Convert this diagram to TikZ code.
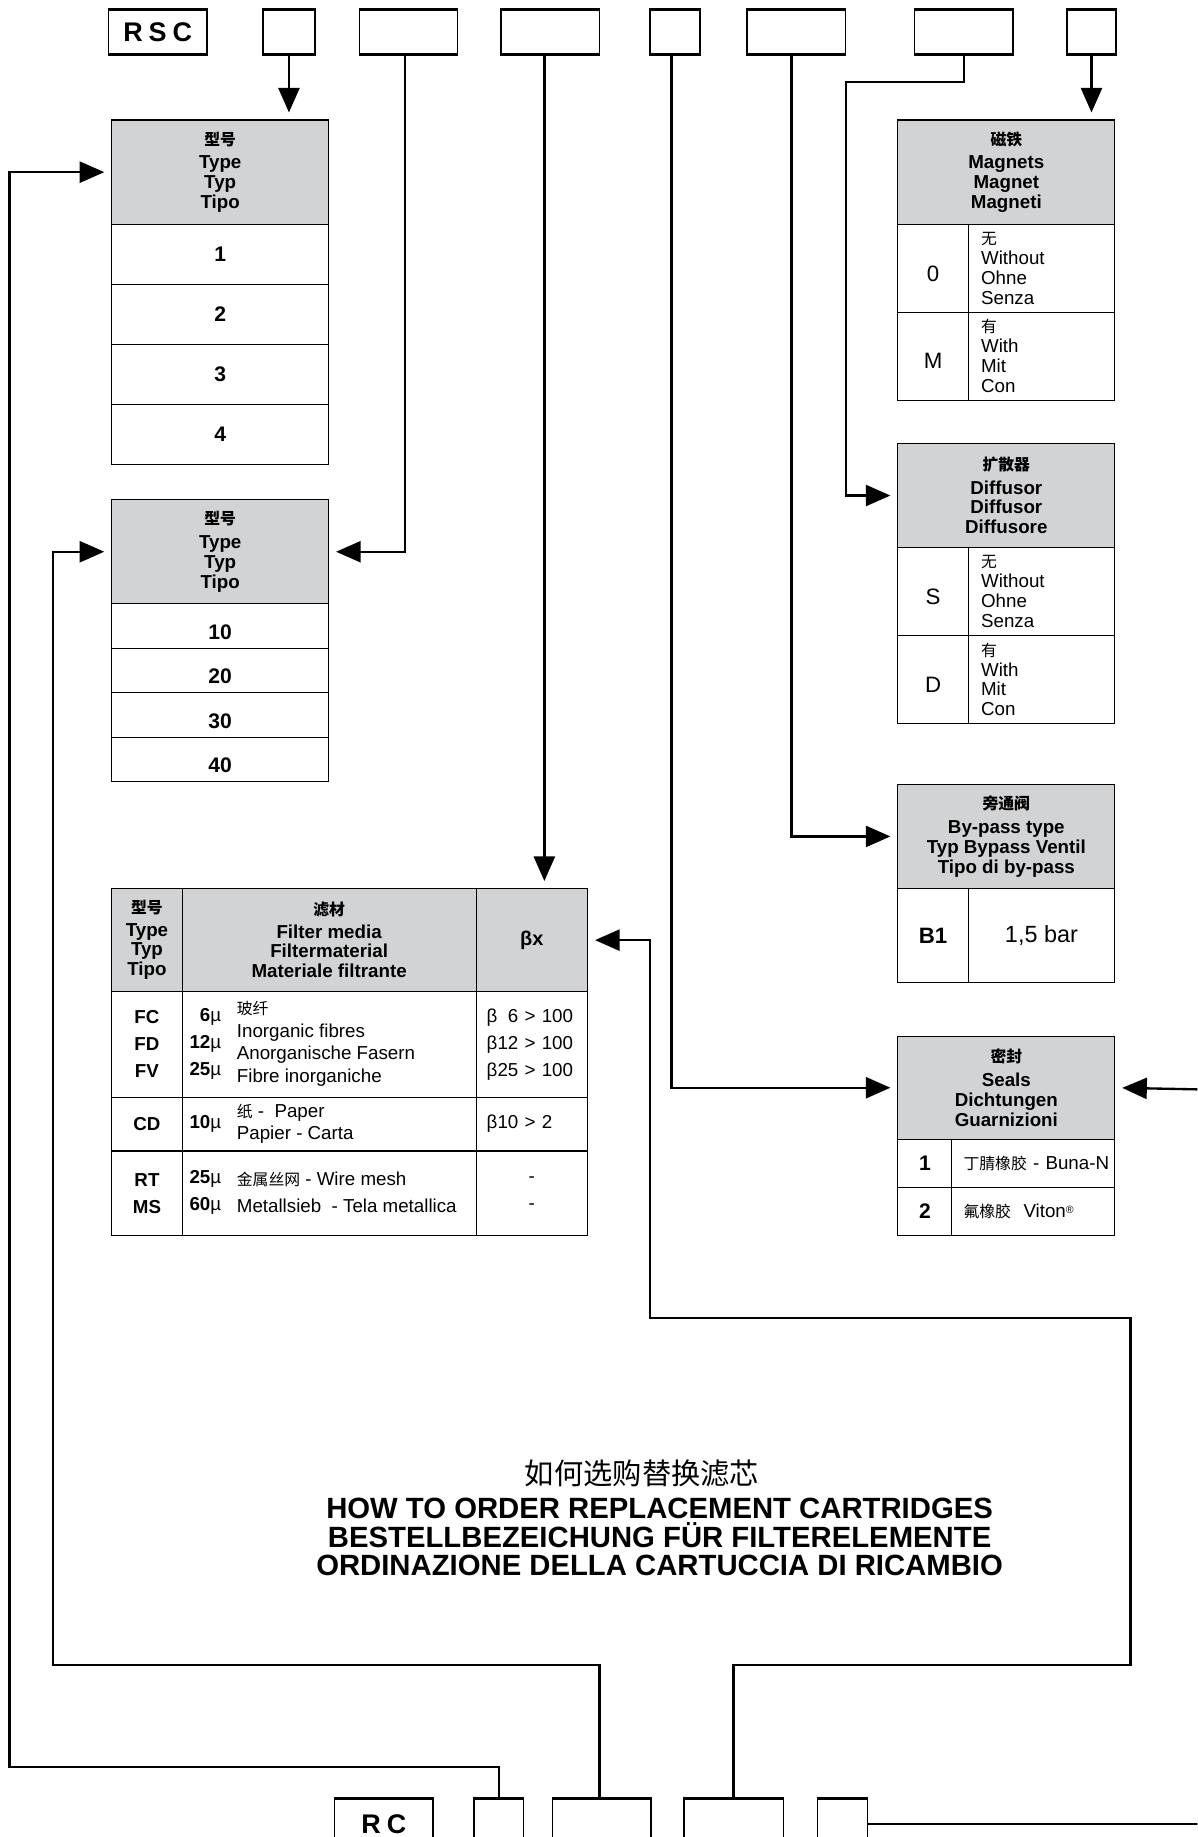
\documentclass[tikz,border=0pt]{standalone}
\usepackage{fontspec}
\setmainfont{Liberation Sans}
\newfontfamily\cjk{Noto Sans CJK SC}
\usepackage{tikz}
\usetikzlibrary{arrows.meta,positioning}
\definecolor{hdrgray}{RGB}{210,211,213}
\newcommand{\zh}[1]{{\cjk\fontsize{13.5}{13.5}\selectfont #1}}

\begin{document}
\begin{tikzpicture} [
      x = 1pt, y = -1pt,
      every node/.style = {inner sep = 0, font = \fontsize{16}{17}\selectfont},
      code/.style = {draw, line width = 1.3pt, minimum height = 37pt, anchor = north west, font = \bfseries\fontsize{23}{23}\selectfont},
      cell/.style = {draw, line width = 0.9pt, anchor = north west, align = center},
      head/.style = {cell, fill = hdrgray, font = \bfseries\fontsize{16}{17}\selectfont},
      txt/.style = {cell, align = left, text width = 103pt, inner xsep = 11pt},
      big/.style = {font = \fontsize{19}{19}\selectfont},
      num/.style = {font = \bfseries\fontsize{18}{18}\selectfont},
      low/.style = {text height = 22pt, text depth = 0pt},
      wire/.style = {line width = 2pt},
      arr/.style = {wire, -{Triangle[length = 21pt, width = 18pt]}, shorten > = 6pt}
      ]
    \useasboundingbox (0,0) rectangle (1022,1568);
    \clip (0,0) rectangle (1022,1568);

    \node [code, minimum width = 84pt] (rsc) at (92,8) {R\kern5pt S\kern5pt C};
    \node [code, minimum width = 44pt] (b1) at (224,8) {};
    \node [code, minimum width = 84pt] (b2) at (306,8) {};
    \node [code, minimum width = 84pt] (b3) at (427,8) {};
    \node [code, minimum width = 43pt] (b4) at (554,8) {};
    \node [code, minimum width = 84pt] (b5) at (637,8) {};
    \node [code, minimum width = 84pt] (b6) at (780,8) {};
    \node [code, minimum width = 42pt] (b7) at (910,8) {};

    \node [code, minimum width = 84pt, minimum height = 42pt] (rc) at (285,1535) {R\kern5pt C};
    \node [code, minimum width = 42pt, minimum height = 42pt] (r1) at (404,1535) {};
    \node [code, minimum width = 84pt, minimum height = 42pt] (r2) at (471,1535) {};
    \node [code, minimum width = 85pt, minimum height = 42pt] (r3) at (583,1535) {};
    \node [code, minimum width = 43pt, minimum height = 42pt] (r4) at (697,1535) {};

    \foreach \n in {rsc,b1,b2,b3,b4,b5,b6,b7,rc,r1,r2,r3,r4}
      \draw [line width = 2.6pt] (\n.north west) -- (\n.north east) (\n.south west) -- (\n.south east);

    \node [head, minimum width = 185pt, minimum height = 89pt] (t1h) at (95,102) {\zh{型号}\\[3pt] Type\\ Typ\\ Tipo};
    \foreach \v [count = \i from 0] in {1,2,3,4}
      \node [cell, num, minimum width = 185pt, minimum height = 51.25pt] (t1r\v) at (95,{191+51.25*\i}) {\v};

    \node [head, minimum width = 185pt, minimum height = 89pt] (t2h) at (95,426) {\zh{型号}\\[3pt] Type\\ Typ\\ Tipo};
    \foreach \v [count = \i from 0] in {10,20,30,40}
      \node [cell, num, low, minimum width = 185pt, minimum height = 38pt] (t2r\v) at (95,{515+38*\i}) {\v};

    \node [head, minimum width = 185pt, minimum height = 89pt] (mh) at (766,102) {\zh{磁铁}\\[3pt] Magnets\\ Magnet\\ Magneti};
    \node [cell, big, low, minimum width = 60pt, minimum height = 75pt] (m0) at (766,191) {0};
    \node [txt, minimum height = 75pt] (m0t) at (826,191) {\zh{无}\\ Without\\ Ohne\\ Senza};
    \node [cell, big, low, minimum width = 60pt, minimum height = 75pt] (mm) at (766,266) {M};
    \node [txt, minimum height = 75pt] (mmt) at (826,266) {\zh{有}\\ With\\ Mit\\ Con};

    \node [head, minimum width = 185pt, minimum height = 89pt] (dh) at (766,378) {\zh{扩散器}\\[3pt] Diffusor\\ Diffusor\\ Diffusore};
    \node [cell, big, low, minimum width = 60pt, minimum height = 75pt] (ds) at (766,467) {S};
    \node [txt, minimum height = 75pt] (dst) at (826,467) {\zh{无}\\ Without\\ Ohne\\ Senza};
    \node [cell, big, low, minimum width = 60pt, minimum height = 75pt] (dd) at (766,542) {D};
    \node [txt, minimum height = 75pt] (ddt) at (826,542) {\zh{有}\\ With\\ Mit\\ Con};

    \node [head, minimum width = 185pt, minimum height = 89pt] (bh) at (766,669) {\zh{旁通阀}\\[3pt] By-pass type\\ Typ Bypass Ventil\\ Tipo di by-pass};
    \node [cell, minimum width = 60pt, minimum height = 80pt, font = \bfseries\fontsize{19}{19}\selectfont] (bpk) at (766,758) {B1};
    \node [cell, minimum width = 125pt, minimum height = 80pt, font = \fontsize{20}{20}\selectfont] (bpv) at (826,758) {1,5 bar};

    \node [head, minimum width = 185pt, minimum height = 88pt] (sh) at (766,884) {\zh{密封}\\[3pt] Seals\\ Dichtungen\\ Guarnizioni};
    \node [cell, num, minimum width = 46pt, minimum height = 41pt] (s1) at (766,972) {1};
    \node [txt, text width = 119pt, inner xsep = 10pt, minimum height = 41pt] (s1t) at (812,972) {\mbox{\zh{丁腈橡胶} - Buna-N}};
    \node [cell, num, minimum width = 46pt, minimum height = 41pt] (s2) at (766,1013) {2};
    \node [txt, text width = 119pt, inner xsep = 10pt, minimum height = 41pt] (s2t) at (812,1013) {\zh{氟橡胶}\ \ Viton\raisebox{3pt}{\fontsize{9}{9}\selectfont ®}};

    \node [head, minimum width = 60pt, minimum height = 88pt] (fa) at (95,758) {\zh{型号}\\[2pt] Type\\ Typ\\ Tipo};
    \node [head, minimum width = 251pt, minimum height = 88pt] (fm) at (155,758) {\zh{滤材}\\[2pt] Filter media\\ Filtermaterial\\ Materiale filtrante};
    \node [head, minimum width = 95pt, minimum height = 88pt, font = \bfseries\fontsize{17}{17}\selectfont] (fb) at (406,758) {βx};

    \node [cell, minimum width = 60pt, minimum height = 90pt, font = \bfseries\fontsize{16}{23}\selectfont] (fc1) at (95,846) {FC\\ FD\\ FV};
    \node [cell, minimum width = 251pt, minimum height = 90pt] (fc2) at (155,846) {};
    \node [anchor = east, align = right, font = \fontsize{16}{23}\selectfont] (fc2s) at (189,891) {\textbf{6}µ\\ \textbf{12}µ\\ \textbf{25}µ};
    \node [anchor = west, align = left, font = \fontsize{16}{19.5}\selectfont] (fc2t) at (202,891) {\zh{玻纤}\\ Inorganic fibres\\ Anorganische Fasern\\ Fibre inorganiche};
    \node [txt, text width = 77pt, inner xsep = 9pt, minimum height = 90pt, font = \fontsize{16}{23}\selectfont] (fc3) at (406,846) {β\hphantom{1}6 > 100\\ β12 > 100\\ β25 > 100};

    \node [cell, minimum width = 60pt, minimum height = 46pt, font = \bfseries\fontsize{16}{17}\selectfont] (fd1) at (95,936) {CD};
    \node [cell, minimum width = 251pt, minimum height = 46pt] (fd2) at (155,936) {};
    \node [anchor = east] (fd2s) at (189,959) {\textbf{10}µ};
    \node [anchor = west, align = left, font = \fontsize{16}{19}\selectfont] (fd2t) at (202,959) {\zh{纸} -\ \ Paper\\ Papier - Carta};
    \node [txt, text width = 77pt, inner xsep = 9pt, minimum height = 46pt] (fd3) at (406,936) {β10 > 2};

    \node [cell, minimum width = 60pt, minimum height = 72pt, font = \bfseries\fontsize{16}{23}\selectfont] (fe1) at (95,982) {RT\\ MS};
    \node [cell, minimum width = 251pt, minimum height = 72pt] (fe2) at (155,982) {};
    \node [anchor = east, align = right, font = \fontsize{16}{23}\selectfont] (fe2s) at (189,1018) {\textbf{25}µ\\ \textbf{60}µ};
    \node [anchor = west, align = left, font = \fontsize{16}{23}\selectfont] (fe2t) at (202,1018) {\zh{金属丝网} - Wire mesh\\ Metallsieb\ \ - Tela metallica};
    \node [cell, minimum width = 95pt, minimum height = 72pt, font = \fontsize{16}{23}\selectfont] (fe3) at (406,982) {-\\ -};

    \node [font = \cjk\fontsize{25}{25}\selectfont] (ttlzh) at (548,1258) {如何选购替换滤芯};
    \node [align = center, font = \bfseries\fontsize{25}{24.5}\selectfont] (ttl) at (563,1312) {HOW TO ORDER REPLACEMENT CARTRIDGES\\ BESTELLBEZEICHUNG FÜR FILTERELEMENTE\\ ORDINAZIONE DELLA CARTUCCIA DI RICAMBIO};

    \draw [arr] (b1.south) -- (b1.south |- t1h.north);
    \draw [arr] ([xshift = -3pt]b2.south) |- (t2h.east);
    \draw [arr] ([xshift = -5pt]b3.south) -- ([xshift = -5pt]b3.south |- fb.north);
    \draw [arr] ([xshift = -3pt]b4.south) |- (sh.west);
    \draw [arr] ([xshift = -4pt]b5.south) |- (bh.west);
    \coordinate (k6) at (722,70);
    \draw [arr] (b6.south) |- (k6) |- (dh.west);
    \draw [arr] (b7.south) -- (b7.south |- mh.north);

    \coordinate (k1) at (8,1508);
    \draw [arr] (r1.north) |- (k1) |- (t1h.west);
    \coordinate (k2) at (45,1421);
    \draw [arr] ([xshift = -2pt]r2.north) |- (k2) |- (t2h.west);
    \coordinate (k3) at (965,1421);
    \coordinate (k4) at (555,1125);
    \draw [arr] (r3.north) |- (k3) |- (k4) |- (fb.east);
    \coordinate (e1) at (1030,930);
    \coordinate (e2) at (1030,1555);
    \draw [arr] (e1) -- (sh.east);
    \draw [wire] (r4.east) -- (r4.east -| e2);
\end{tikzpicture}
\end{document}
